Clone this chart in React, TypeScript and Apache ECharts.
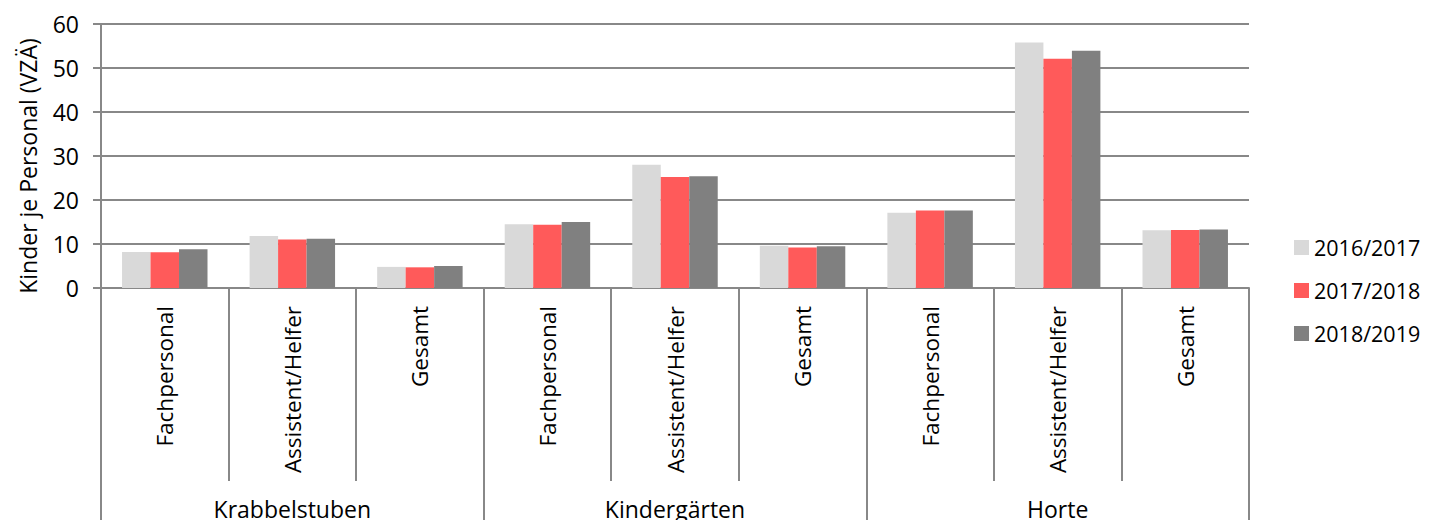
import React, { useEffect, useRef } from "react";
import * as echarts from "echarts";

const subCategories = [
  "Fachpersonal", "Assistent/Helfer", "Gesamt",
  "Fachpersonal", "Assistent/Helfer", "Gesamt",
  "Fachpersonal", "Assistent/Helfer", "Gesamt",
];
const groups = ["Krabbelstuben", "Kindergärten", "Horte"];
const seriesNames = ["2016/2017", "2017/2018", "2018/2019"];
const values2016 = [8.2, 11.8, 4.8, 14.5, 28.0, 9.6, 17.1, 55.8, 13.1];
const values2017 = [8.1, 11.0, 4.7, 14.4, 25.2, 9.2, 17.6, 52.1, 13.2];
const values2018 = [8.8, 11.2, 5.0, 15.0, 25.4, 9.5, 17.6, 53.9, 13.3];
const colors = ["#D9D9D9", "#FF5A5A", "#808080"];
const titleText = "Betreuungsschlüssel: Kinder je Personal (VZÄ)";
const yAxisTitle = "Kinder je Personal (VZÄ)";

const FONT = "'Open Sans', sans-serif";
const LINE = "#888888";

export default function App() {
  const ref = useRef<HTMLDivElement>(null);
  useEffect(() => {
    if (!ref.current) return;
    const chart = echarts.init(ref.current, undefined, { renderer: "svg" });
    const data = [values2016, values2017, values2018];
    chart.setOption({
      animation: false,
      textStyle: { fontFamily: FONT },
      graphic: [
        {
          type: "text",
          x: 997,
          y: -6,
          style: {
            text: titleText,
            fontFamily: FONT,
            fontSize: 22,
            fill: "#000",
            align: "right",
            verticalAlign: "middle",
          },
        },
        {
          type: "text",
          x: 28,
          y: 166,
          rotation: Math.PI / 2,
          style: {
            text: yAxisTitle,
            fontFamily: FONT,
            fontSize: 23,
            fill: "#000",
            align: "center",
            verticalAlign: "middle",
          },
        },
      ],
      legend: {
        orient: "vertical",
        left: 1289,
        top: 231,
        itemWidth: 15,
        itemHeight: 15,
        itemGap: 20,
        icon: "rect",
        textStyle: { fontFamily: FONT, fontSize: 21.5, color: "#000", lineHeight: 23 },
        data: seriesNames,
      },
      grid: { left: 101, right: 183, top: 24, bottom: 240, containLabel: false },
      xAxis: [
        {
          type: "category",
          data: subCategories,
          position: "bottom",
          axisLine: { show: true, lineStyle: { color: LINE, width: 2 } },
          axisTick: { show: true, interval: 0, length: 193, lineStyle: { color: LINE, width: 2 } },
          axisLabel: {
            interval: 0,
            rotate: 90,
            margin: 18,
            fontFamily: FONT,
            fontSize: 22.5,
            color: "#000",
          },
        },
        {
          type: "category",
          data: groups,
          position: "bottom",
          axisLine: { show: false },
          axisTick: { show: true, interval: 0, length: 240, lineStyle: { color: LINE, width: 2 } },
          axisLabel: {
            interval: 0,
            margin: 209,
            fontFamily: FONT,
            fontSize: 23,
            color: "#000",
          },
        },
      ],
      yAxis: {
        type: "value",
        min: 0,
        max: 60,
        interval: 10,
        axisLine: { show: true, lineStyle: { color: LINE, width: 2 } },
        axisTick: { show: true, length: 8, lineStyle: { color: LINE, width: 2 } },
        splitLine: { show: true, lineStyle: { color: LINE, width: 2 } },
        axisLabel: { margin: 22, fontFamily: FONT, fontSize: 23, color: "#000" },
      },
      series: seriesNames.map((name, i) => ({
        name,
        type: "bar",
        xAxisIndex: 0,
        data: data[i],
        barGap: "0%",
        barCategoryGap: "33%",
        itemStyle: { color: colors[i] },
      })),
    });
    return () => chart.dispose();
  }, []);
  return <div ref={ref} style={{ width: 1432, height: 528, margin: -8 }} />;
}
